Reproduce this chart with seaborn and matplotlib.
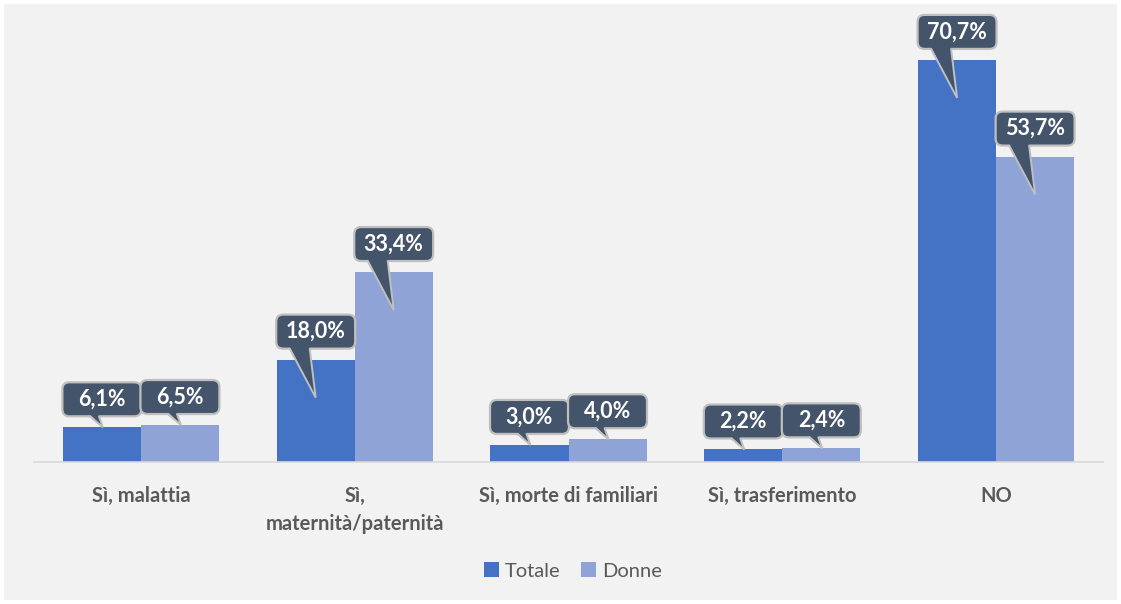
import pandas as pd
import matplotlib.pyplot as plt
import seaborn as sns
from matplotlib.patches import FancyBboxPatch, Polygon, Rectangle

# Data
categorie = ["Sì, malattia", "Sì,\nmaternità/paternità", "Sì, morte di familiari",
             "Sì, trasferimento", "NO"]
totale = [6.1, 18.0, 3.0, 2.2, 70.7]
donne = [6.5, 33.4, 4.0, 2.4, 53.7]
serie = ["Totale", "Donne"]
colori = ["#4472c4", "#8fa3d6"]

df = pd.DataFrame({
    "categoria": categorie * 2,
    "valore": totale + donne,
    "serie": [serie[0]] * len(categorie) + [serie[1]] * len(categorie),
})

sns.set_style("white")
plt.rcParams["font.family"] = ["Lato", "DejaVu Sans"]

W, H = 1121, 604
fig = plt.figure(figsize=(W / 100, H / 100), dpi=100)
fig.patch.set_facecolor("white")
fig.patches.append(Rectangle((4 / W, 4 / H), 1 - 8 / W, 1 - 8 / H,
                             transform=fig.transFigure, fc="#f2f2f2", ec="none", zorder=-10))

ax_l, ax_r, ax_b, ax_t = 34, 1103, 462, 7
ax = fig.add_axes([ax_l / W, 1 - ax_b / H, (ax_r - ax_l) / W, (ax_b - ax_t) / H])
ax.set_facecolor("none")

group_w = 0.73
sns.barplot(data=df, x="categoria", y="valore", hue="serie", palette=colori,
            width=group_w, gap=0, saturation=1, linewidth=0, ax=ax, legend=True, zorder=2)

ymax = 80
ax.set_xlim(-0.5, len(categorie) - 0.5)
ax.set_ylim(0, ymax)
ax.set_yticks([])
ax.set_xlabel("")
ax.set_ylabel("")
for s in ["top", "right", "left"]:
    ax.spines[s].set_visible(False)
ax.spines["bottom"].set_color("#d9d9d9")
ax.spines["bottom"].set_linewidth(1.2)
ax.tick_params(axis="x", length=0, pad=17)
for lab in ax.get_xticklabels():
    lab.set_fontsize(14.5)
    lab.set_fontweight("bold")
    lab.set_color("#595959")
    lab.set_verticalalignment("top")
    lab.set_linespacing(1.55)

# pixel -> data units
px = (len(categorie)) / (ax_r - ax_l)
py = ymax / (ax_b - ax_t)

# callouts
box_w, box_h = 79, 34
bw = group_w / 2
for j, vals in enumerate([totale, donne]):
    for i, v in enumerate(vals):
        cx = i + (j - 0.5) * bw
        top = v
        cy = top + 28 * py
        box = FancyBboxPatch((cx - box_w / 2 * px, cy - box_h / 2 * py),
                             box_w * px, box_h * py,
                             boxstyle=f"round,pad=0,rounding_size={7 * px}",
                             mutation_aspect=py / px,
                             fc="#44546a", ec="#bfbfbf", lw=1.6, zorder=4)
        ax.add_patch(box)
        tall = (v / py) > 60
        if tall:
            b1, b2, tip_dx, tip_y = -26, -6, 0, top - 38 * py
        else:
            b1, b2, tip_dx, tip_y = -12, -3, 1, top
        ybase = cy - box_h / 2 * py
        pts = [(cx + b1 * px, ybase + 2 * py), (cx + b2 * px, ybase + 2 * py),
               (cx + tip_dx * px, tip_y)]
        ax.add_patch(Polygon(pts, closed=True, fc="#44546a", ec="none", zorder=5))
        ax.plot([pts[0][0], pts[2][0], pts[1][0]], [ybase, pts[2][1], ybase],
                color="#bfbfbf", lw=1.4, zorder=5, solid_joinstyle="miter")
        ax.text(cx, cy, f"{v:.1f}%".replace(".", ","), ha="center", va="center",
                fontsize=15.5, fontweight="bold", color="white", zorder=6)

leg = ax.legend(loc="center", bbox_to_anchor=(573 / W, 1 - 571 / H),
                bbox_transform=fig.transFigure, ncol=2, frameon=False,
                fontsize=14.5, handlelength=0.75, handleheight=0.75,
                handletextpad=0.3, columnspacing=1.0)
for t in leg.get_texts():
    t.set_color("#595959")

fig.savefig("out.png", dpi=100, facecolor="white")
